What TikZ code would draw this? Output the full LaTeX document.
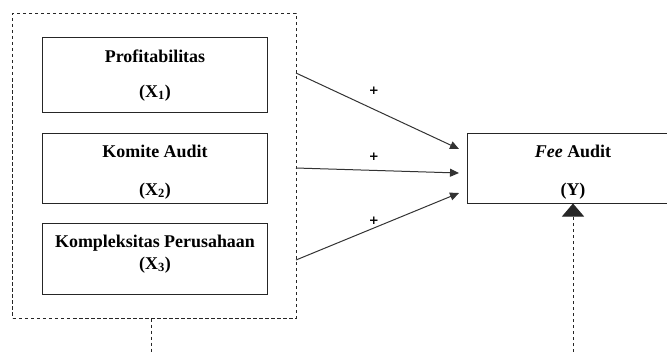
\documentclass[tikz,border=0pt]{standalone}
\usepackage{fontspec}
\setmainfont{Liberation Serif}
\newfontfamily\plusfont{DejaVu Sans}
\usetikzlibrary{arrows.meta}
\begin{document}
\begin{tikzpicture}[x=1bp,y=-1bp,
  box/.style={draw=black!85, line width=1bp, minimum width=224bp, inner sep=0pt, rectangle},
  lbl/.style={font=\fontsize{18}{21}\selectfont\bfseries, anchor=base, inner sep=0pt},
  plus/.style={font=\fontsize{12}{14}\plusfont\bfseries, inner sep=0pt},
  grpbox/.style={draw=black!85, line width=1bp, dash pattern=on 3.5bp off 2.5bp},
  conn/.style={draw=black!80, line width=1bp, -{Triangle[length=9bp,width=8bp]}},
  upconn/.style={draw=black!85, line width=1bp, dash pattern=on 3.5bp off 2.5bp, -{Triangle[length=13bp,width=22bp]}}
]
\clip (0,0) rectangle (667,351);
% group box
\node[grpbox, minimum width=283bp, minimum height=305bp, inner sep=0pt] (grp) at (154.5,165.5) {};
% independent variables
\node[box, minimum height=75bp] (b1) at (155,74.5) {};
\node[box, minimum height=70bp] (b2) at (155,168) {};
\node[box, minimum height=71bp] (b3) at (155,258.5) {};
\node[lbl] (t1a) at (155,62) {Profitabilitas};
\node[lbl] (t1b) at (155,97) {(X\textsubscript{1})};
\node[lbl] (t2a) at (155,157) {Komite Audit};
\node[lbl] (t2b) at (155,195) {(X\textsubscript{2})};
\node[lbl] (t3a) at (155,247) {Kompleksitas Perusahaan};
\node[lbl] (t3b) at (155,269) {(X\textsubscript{3})};
% dependent variable
\node[box, minimum width=212bp, minimum height=70bp] (Y) at (573,168) {};
\node[lbl] (ya) at (573,157) {\textit{Fee} Audit};
\node[lbl] (yb) at (573,195) {(Y)};
% connectors
\coordinate (s1) at (296,73);
\coordinate (s2) at (296,168);
\coordinate (s3) at (296,260);
\coordinate (e1) at (459,149);
\coordinate (e2) at (459,173);
\coordinate (e3) at (459,193);
\draw[conn] (s1) -- (e1);
\draw[conn] (s2) -- (e2);
\draw[conn] (s3) -- (e3);
\node[plus] (p1) at (374,91) {+};
\node[plus] (p2) at (374,157) {+};
\node[plus] (p3) at (374,221) {+};
% dashed lines at bottom
\coordinate (gdown) at (151,352);
\draw[grpbox] (grp.south -| gdown) -- (gdown);
\coordinate (ydown) at (573,352);
\draw[upconn] (ydown) -- (Y.south);
\end{tikzpicture}
\end{document}
